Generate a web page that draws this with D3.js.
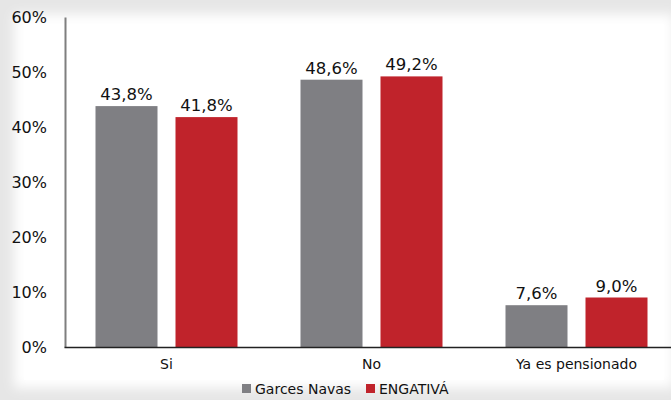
<!DOCTYPE html>
<html><head><meta charset="utf-8">
<script src="https://cdn.jsdelivr.net/npm/d3@7/dist/d3.min.js"></script>
<style>html,body{margin:0;padding:0;background:#e8e8e8;}svg{display:block;font-family:"DejaVu Sans",Verdana,sans-serif;}</style>
</head><body>
<script>
const categories = ["Si", "No", "Ya es pensionado"];
const seriesNames = ["Garces Navas", "ENGATIVÁ"];
const garcesNavas = [43.8, 48.6, 7.6];
const engativa = [41.8, 49.2, 9.0];
const yTicks = [0, 10, 20, 30, 40, 50, 60];
const colors = ["#7f7f83", "#c0232b"];

const W = 671, H = 400;
const svg = d3.select("body").append("svg").attr("width", W).attr("height", H);
const defs = svg.append("defs");
const f = defs.append("filter").attr("id", "blur").attr("x", "-10%").attr("y", "-10%").attr("width", "120%").attr("height", "120%");
f.append("feGaussianBlur").attr("stdDeviation", 6);
svg.append("rect").attr("width", W).attr("height", H).attr("fill", "#e6e6e6");
svg.append("rect").attr("x", 14).attr("y", 14).attr("width", 660).attr("height", 374).attr("fill", "#fff").attr("filter", "url(#blur)");
svg.append("rect").attr("x", 24).attr("y", 24).attr("width", 640).attr("height", 356).attr("fill", "#fff");

const x0 = d3.scaleBand().domain(categories).range([64, 679]).paddingInner(0).paddingOuter(0);
const y = d3.scaleLinear().domain([0, 60]).range([347, 17]);
const groupW = 142, barW = 62, gap = 18;

const data = categories.map((c, i) => ({cat: c, vals: [garcesNavas[i], engativa[i]]}));

const g = svg.selectAll("g.grp").data(data).enter().append("g")
  .attr("transform", d => `translate(${x0(d.cat) + (x0.bandwidth() - groupW) / 2},0)`);
g.selectAll("rect").data(d => d.vals).enter().append("rect")
  .attr("x", (v, j) => j * (barW + gap)).attr("width", barW)
  .attr("y", v => y(v)).attr("height", v => y(0) - y(v))
  .attr("fill", (v, j) => colors[j]);
g.selectAll("text").data(d => d.vals).enter().append("text")
  .attr("x", (v, j) => j * (barW + gap) + barW / 2).attr("y", v => y(v) - 6)
  .attr("text-anchor", "middle").attr("font-size", 16.5).attr("fill", "#111")
  .text(v => v.toFixed(1).replace(".", ",") + "%");

// y axis
const yAxis = d3.axisLeft(y).tickValues(yTicks).tickSize(0).tickPadding(18).tickFormat(d => d + "%");
const ya = svg.append("g").attr("transform", "translate(65,0)").call(yAxis);
ya.select(".domain").attr("stroke", "#7f7f7f").attr("stroke-width", 2);
ya.selectAll("text").attr("font-size", 16).attr("fill", "#111").attr("font-family", "DejaVu Sans, Verdana, sans-serif");

// x axis
const xAxis = d3.axisBottom(x0).tickSize(0).tickPadding(12);
const xa = svg.append("g").attr("transform", "translate(0,347)").call(xAxis);
xa.select(".domain").attr("stroke", "#222").attr("stroke-width", 1.5);
xa.selectAll("text").attr("font-size", 14).attr("fill", "#111").attr("font-family", "DejaVu Sans, Verdana, sans-serif");

// legend
const leg = svg.append("g");
const legX = [242, 366];
seriesNames.forEach((n, i) => {
  leg.append("rect").attr("x", legX[i]).attr("y", 384).attr("width", 9).attr("height", 9).attr("fill", colors[i]);
  leg.append("text").attr("x", legX[i] + 13).attr("y", 394).attr("font-size", 14).attr("fill", "#111").text(n);
});
</script>
</body></html>
